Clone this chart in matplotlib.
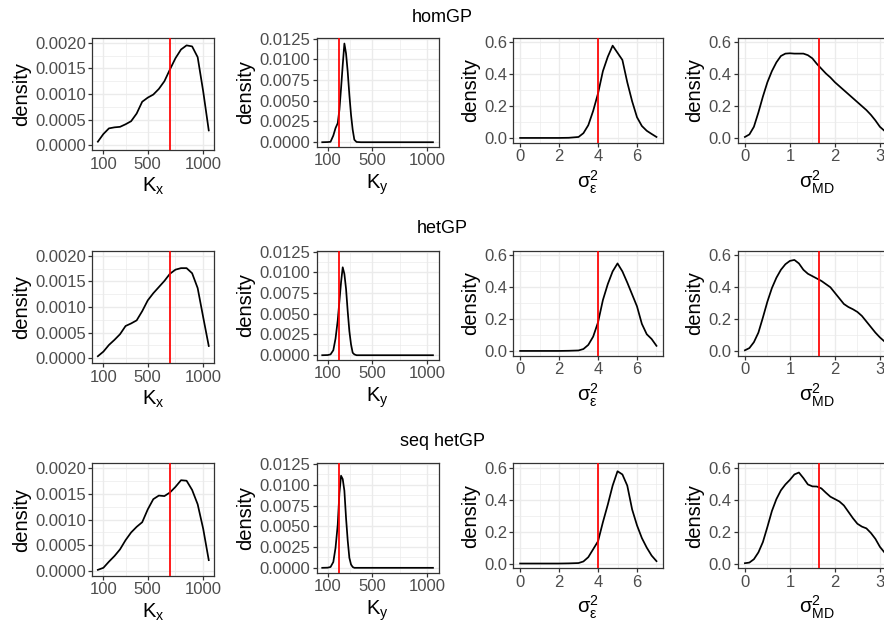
import matplotlib
matplotlib.use("Agg")
import matplotlib.pyplot as plt
from matplotlib.ticker import FixedLocator, FixedFormatter

plt.rcParams['font.family'] = ['Liberation Sans', 'DejaVu Sans']
plt.rcParams['mathtext.fontset'] = 'custom'
plt.rcParams['mathtext.rm'] = 'Liberation Sans'
plt.rcParams['mathtext.it'] = 'Liberation Sans:italic'

methods = ["homGP", "hetGP", "seq hetGP"]

# K_x posterior densities
kx_grid = [50, 100, 150, 200, 250, 300, 350, 400, 450, 500, 550, 600, 650, 700,
           750, 800, 850, 900, 950, 1000, 1050]
kx_hom = [0.00007, 0.00022, 0.00033, 0.00035, 0.00036, 0.00041, 0.00047, 0.00062,
          0.00085, 0.00093, 0.00099, 0.00110, 0.00125, 0.00148, 0.00170, 0.00187,
          0.00195, 0.00193, 0.00172, 0.00105, 0.00029]
kx_het = [0.00004, 0.00013, 0.00026, 0.00036, 0.00047, 0.00063, 0.00068, 0.00074,
          0.00092, 0.00113, 0.00127, 0.00139, 0.00151, 0.00165, 0.00173, 0.00176,
          0.00176, 0.00166, 0.00137, 0.00080, 0.00024]
kx_seq = [0.00002, 0.00006, 0.00018, 0.00029, 0.00042, 0.00060, 0.00075, 0.00086,
          0.00095, 0.00120, 0.00140, 0.00147, 0.00146, 0.00153, 0.00164, 0.00177,
          0.00176, 0.00158, 0.00130, 0.00082, 0.00021]

# K_y posterior densities
ky_grid = [50, 100, 125, 150, 170, 190, 205, 220, 235, 250, 265, 280, 295, 310,
           325, 340, 360, 400, 500, 600, 700, 800, 900, 1000, 1050]
ky_hom = [0, 0.00002, 0.00005, 0.0008, 0.0017, 0.0023, 0.0039, 0.0065, 0.0093,
          0.0119, 0.0107, 0.0085, 0.0057, 0.0033, 0.0015, 0.0003, 0.00003, 0,
          0, 0, 0, 0, 0, 0, 0]
ky_het = [0, 0.00002, 0.0001, 0.0006, 0.0020, 0.0042, 0.0065, 0.0088, 0.0106,
          0.0098, 0.0080, 0.0053, 0.0029, 0.0013, 0.0003, 0.0001, 0, 0,
          0, 0, 0, 0, 0, 0, 0]
ky_seq = [0, 0.00002, 0.0001, 0.0007, 0.0024, 0.0052, 0.0090, 0.0111, 0.0107,
          0.0093, 0.0060, 0.0033, 0.0012, 0.0004, 0.0001, 0, 0, 0,
          0, 0, 0, 0, 0, 0, 0]

# sigma_eps^2 posterior densities
eps_grid = [0, 0.5, 1, 1.5, 2, 2.5, 3, 3.25, 3.5, 3.75, 4, 4.25, 4.5, 4.75, 5,
            5.25, 5.5, 5.75, 6, 6.25, 6.5, 6.75, 7]
eps_hom = [0, 0, 0, 0, 0, 0.001, 0.006, 0.03, 0.08, 0.17, 0.28, 0.42, 0.51, 0.58,
           0.535, 0.49, 0.35, 0.23, 0.13, 0.075, 0.045, 0.025, 0.006]
eps_het = [0, 0, 0, 0, 0, 0.001, 0.003, 0.012, 0.038, 0.09, 0.18, 0.32, 0.42, 0.50,
           0.55, 0.50, 0.43, 0.355, 0.28, 0.17, 0.105, 0.075, 0.032]
eps_seq = [0, 0, 0, 0, 0, 0.001, 0.003, 0.013, 0.04, 0.09, 0.14, 0.26, 0.37, 0.49,
           0.58, 0.56, 0.49, 0.34, 0.24, 0.16, 0.10, 0.05, 0.015]

# sigma_MD^2 posterior densities
md_grid = [0.0, 0.1, 0.2, 0.3, 0.4, 0.5, 0.6, 0.7, 0.8, 0.9, 1.0, 1.1, 1.2, 1.3,
           1.4, 1.5, 1.6, 1.7, 1.8, 1.9, 2.0, 2.1, 2.2, 2.3, 2.4, 2.5, 2.6, 2.7,
           2.8, 2.9, 3.0, 3.1, 3.2]
md_hom = [0.006, 0.022, 0.07, 0.16, 0.26, 0.35, 0.42, 0.475, 0.515, 0.53, 0.532,
          0.53, 0.53, 0.53, 0.52, 0.50, 0.465, 0.435, 0.405, 0.38, 0.35, 0.325,
          0.30, 0.275, 0.25, 0.225, 0.20, 0.175, 0.145, 0.11, 0.07, 0.045, 0.03]
md_het = [0.004, 0.018, 0.055, 0.115, 0.21, 0.31, 0.395, 0.46, 0.51, 0.545, 0.566,
          0.572, 0.55, 0.51, 0.485, 0.47, 0.455, 0.44, 0.42, 0.40, 0.365, 0.33,
          0.295, 0.276, 0.262, 0.245, 0.22, 0.185, 0.15, 0.115, 0.085, 0.06, 0.04]
md_seq = [0.002, 0.006, 0.027, 0.07, 0.135, 0.23, 0.33, 0.405, 0.46, 0.497, 0.526,
          0.56, 0.572, 0.537, 0.497, 0.485, 0.484, 0.472, 0.445, 0.42, 0.405, 0.39,
          0.365, 0.325, 0.285, 0.25, 0.232, 0.221, 0.192, 0.155, 0.105, 0.07, 0.045]

true_kx, true_ky, true_eps, true_md = 700, 200, 4, 1.64

panels = [
    dict(x=kx_grid, ys=[kx_hom, kx_het, kx_seq], true=true_kx,
         xlabel=r'$\mathrm{K}_{\mathrm{x}}$', xticks=[100, 500, 1000], xminor=[300, 750],
         xtl=['100', '500', '1000'], ylim=(0, 0.002),
         yticks=[0, 0.0005, 0.001, 0.0015, 0.002], yfmt='%.4f'),
    dict(x=ky_grid, ys=[ky_hom, ky_het, ky_seq], true=true_ky,
         xlabel=r'$\mathrm{K}_{\mathrm{y}}$', xticks=[100, 500, 1000], xminor=[300, 750],
         xtl=['100', '500', '1000'], ylim=(0, 0.012),
         yticks=[0, 0.0025, 0.005, 0.0075, 0.01, 0.0125], yfmt='%.4f'),
    dict(x=eps_grid, ys=[eps_hom, eps_het, eps_seq], true=true_eps,
         xlabel=r'$\mathrm{\sigma}_{\mathrm{\varepsilon}}^{2}$', xticks=[0, 2, 4, 6],
         xminor=[1, 3, 5, 7], xtl=['0', '2', '4', '6'], ylim=(0, 0.6),
         yticks=[0, 0.2, 0.4, 0.6], yfmt='%.1f'),
    dict(x=md_grid, ys=[md_hom, md_het, md_seq], true=true_md,
         xlabel=r'$\mathrm{\sigma}_{\mathrm{MD}}^{2}$', xticks=[0, 1, 2, 3],
         xminor=[0.5, 1.5, 2.5], xtl=['0', '1', '2', '3'], ylim=(0, 0.6),
         yticks=[0, 0.2, 0.4, 0.6], yfmt='%.1f'),
]

W, H = 884, 628
col_left = [92.3, 316.7, 513.3, 737.7]
col_width = [122.0, 121.8, 150.0, 158.4]
col_height = [112.7, 109.5, 105.0, 105.0]
row_top = [37.7, 250.7, 463.3]
title_base = [21.7, 233.3, 445.7]

fig = plt.figure(figsize=(W / 100, H / 100), dpi=100)

for r, name in enumerate(methods):
    fig.text(0.5, 1 - title_base[r] / H, name, ha='center', va='baseline', fontsize=13)
    for c, p in enumerate(panels):
        l, w, h, t = col_left[c], col_width[c], col_height[c], row_top[r]
        ax = fig.add_axes([l / W, 1 - (t + h) / H, w / W, h / H])
        xs = p['x']
        ys = p['ys'][r]
        ax.plot(xs, ys, color='black', lw=1.25, zorder=3, solid_joinstyle='round')
        ax.axvline(p['true'], color='#FF0000', lw=1.25, zorder=4)
        x0, x1 = min(xs), max(xs)
        dx = (x1 - x0) * 0.05
        ax.set_xlim(x0 - dx, x1 + dx)
        y0, y1 = p['ylim']
        dy = (y1 - y0) * 0.05
        ax.set_ylim(y0 - dy, y1 + dy)
        ax.xaxis.set_major_locator(FixedLocator(p['xticks']))
        ax.xaxis.set_major_formatter(FixedFormatter(p['xtl']))
        ax.xaxis.set_minor_locator(FixedLocator(p['xminor']))
        ax.yaxis.set_major_locator(FixedLocator(p['yticks']))
        ax.yaxis.set_major_formatter(FixedFormatter([p['yfmt'] % v for v in p['yticks']]))
        ax.yaxis.set_minor_locator(FixedLocator([(a + b) / 2 for a, b in zip(p['yticks'][:-1], p['yticks'][1:])]))
        ax.grid(which='major', color='#EBEBEB', lw=1.0, zorder=0)
        ax.grid(which='minor', color='#EBEBEB', lw=0.5, zorder=0)
        ax.set_axisbelow(True)
        for s in ax.spines.values():
            s.set_color('#333333')
            s.set_linewidth(0.9)
        ax.tick_params(which='major', length=3, width=0.9, color='#333333',
                       labelsize=12, labelcolor='#4D4D4D', pad=1.5)
        ax.tick_params(which='minor', length=0)
        ax.set_xlabel(p['xlabel'], fontsize=14.5, labelpad=3)
        ax.set_ylabel('density', fontsize=14.5, labelpad=3)

fig.savefig('out.png', dpi=100)
